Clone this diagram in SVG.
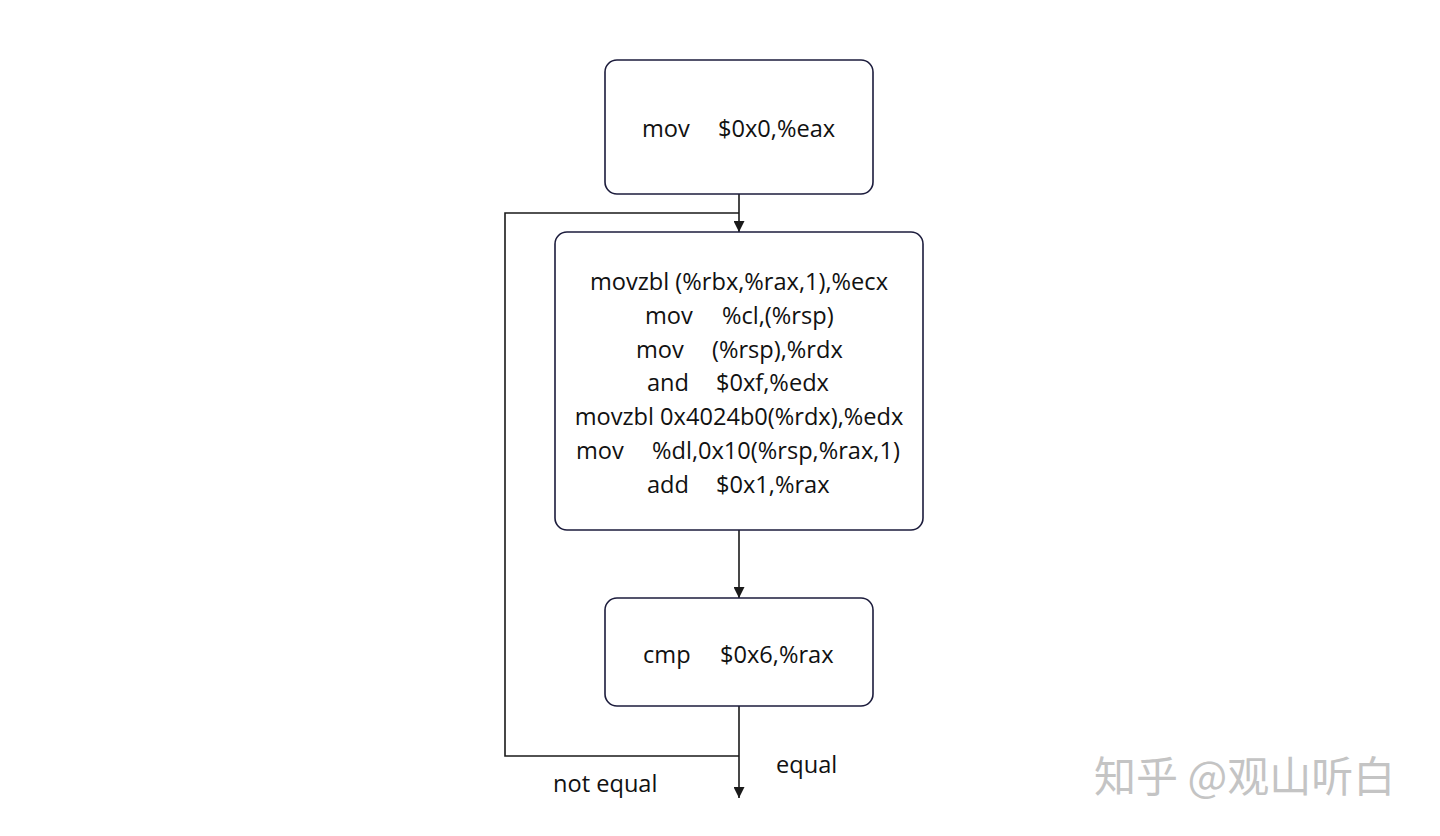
<svg xmlns="http://www.w3.org/2000/svg" width="1440" height="836" viewBox="0 0 1440 836">
<defs>
<marker id="arr" viewBox="0 0 10 10" refX="10" refY="5" markerWidth="11" markerHeight="11" markerUnits="userSpaceOnUse" orient="auto">
<path d="M0,0 L10,5 L0,10 Z" fill="#1a1a1a"/>
</marker>
<style>
.box{fill:#ffffff;stroke:#1c1c3c;stroke-width:1.6}
.t{font-family:"Open Sans","Noto Sans",sans-serif;font-size:23.6px;fill:#111111;dominant-baseline:central}
.m{text-anchor:middle}
.ln{fill:none;stroke:#1a1a1a;stroke-width:1.6}
.wm{font-family:"Noto Sans CJK SC",sans-serif;font-size:42px;fill:#c4c4c4}
</style>
</defs>
<rect width="1440" height="836" fill="#ffffff"/>
<g id="connectors">
<line class="ln" x1="739" y1="194" x2="739" y2="232" marker-end="url(#arr)"/>
<line class="ln" x1="739" y1="530" x2="739" y2="598" marker-end="url(#arr)"/>
<line class="ln" x1="739" y1="706" x2="739" y2="798" marker-end="url(#arr)"/>
<polyline class="ln" points="739,756 505,756 505,213 739,213"/>
<text class="t" x="776" y="764">equal</text>
<text class="t" x="553" y="783">not equal</text>
</g>
<g id="node1">
<rect class="box" x="605" y="60" width="268" height="134" rx="12"/>
<text class="t" x="642" y="128">mov</text>
<text class="t" x="718" y="128">$0x0,%eax</text>
</g>
<g id="node2">
<rect class="box" x="555" y="232" width="368" height="298" rx="12"/>
<text class="t m" x="739" y="281">movzbl (%rbx,%rax,1),%ecx</text>
<text class="t" x="645" y="315">mov</text><text class="t" x="722" y="315">%cl,(%rsp)</text>
<text class="t" x="636" y="349">mov</text><text class="t" x="712" y="349">(%rsp),%rdx</text>
<text class="t" x="647" y="382">and</text><text class="t" x="716" y="382">$0xf,%edx</text>
<text class="t m" x="739" y="416">movzbl 0x4024b0(%rdx),%edx</text>
<text class="t" x="576" y="450">mov</text><text class="t" x="652" y="450">%dl,0x10(%rsp,%rax,1)</text>
<text class="t" x="647" y="484">add</text><text class="t" x="716" y="484">$0x1,%rax</text>
</g>
<g id="node3">
<rect class="box" x="605" y="598" width="268" height="108" rx="12"/>
<text class="t" x="643" y="654">cmp</text>
<text class="t" x="720" y="654">$0x6,%rax</text>
</g>
<text class="wm" x="1094" y="792">知乎 @观山听白</text>
</svg>
